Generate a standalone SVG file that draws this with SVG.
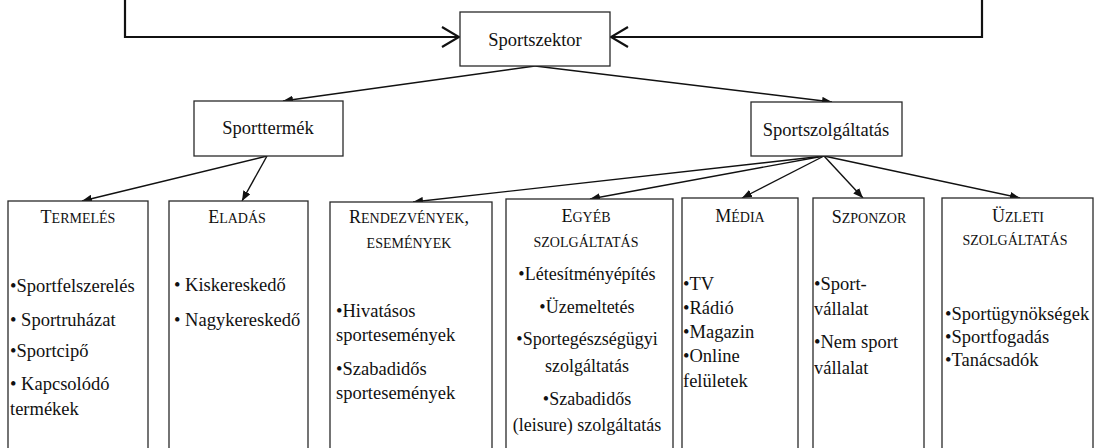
<svg xmlns="http://www.w3.org/2000/svg" width="1097" height="448" viewBox="0 0 1097 448">
<style>
  .box { fill: #fff; stroke: #2a2a2a; stroke-width: 1.3; }
  .t { font-family: 'Liberation Serif', 'DejaVu Serif', serif; font-size: 18.5px; fill: #111; }
  .h { font-family: 'Liberation Serif', 'DejaVu Serif', serif; font-size: 18px; fill: #111; text-anchor: middle; }
  .sc { font-size: 14px; }
  .c { text-anchor: middle; }
  .s18 { font-size: 18px; }
  .conn { fill: none; stroke: #111; stroke-width: 1.4; marker-end: url(#fa); }
  .top { fill: none; stroke: #111; stroke-width: 2.2; marker-end: url(#oa); }
</style>
<defs>
  <marker id="fa" viewBox="0 0 10 8" refX="10" refY="4" markerWidth="10" markerHeight="8" markerUnits="userSpaceOnUse" orient="auto">
    <path d="M0,0 L10,4 L0,8 z" fill="#111"/>
  </marker>
  <marker id="oa" viewBox="0 0 20 22" refX="18" refY="11" markerWidth="20" markerHeight="22" markerUnits="userSpaceOnUse" orient="auto">
    <path d="M1,1 L18,11 L1,21" fill="none" stroke="#111" stroke-width="2.2"/>
  </marker>
</defs>
<rect width="1097" height="448" fill="#fff"/>

<g id="connectors">
  <path class="top" d="M125,0 V37 H459"/>
  <path class="top" d="M982,0 V37 H611"/>
  <path class="conn" d="M535,66 L283,101"/>
  <path class="conn" d="M535,66 L832,102"/>
  <path class="conn" d="M267,156 L82,201"/>
  <path class="conn" d="M267,156 L242,201"/>
  <path class="conn" d="M824,156 L413,202"/>
  <path class="conn" d="M824,156 L590,199"/>
  <path class="conn" d="M824,156 L742,198"/>
  <path class="conn" d="M824,156 L863,198"/>
  <path class="conn" d="M824,156 L1020,198"/>
</g>

<g font-family="Liberation Serif, DejaVu Serif, serif">
<g id="sportszektor">
  <rect class="box" x="460" y="12" width="150" height="54"/>
  <text class="t c" x="535" y="46">Sportszektor</text>
</g>

<g id="sporttermek">
  <rect class="box" x="194" y="101" width="149" height="55"/>
  <text class="t c" x="268" y="134">Sporttermék</text>
</g>

<g id="sportszolgaltatas">
  <rect class="box" x="751" y="102" width="151" height="54"/>
  <text class="t c" x="826" y="136">Sportszolgáltatás</text>
</g>

<g id="termeles">
  <rect class="box" x="8" y="201" width="140" height="260"/>
  <text class="h" x="78" y="223">T<tspan class="sc">ERMELÉS</tspan></text>
  <text class="t" x="10" y="292">•Sportfelszerelés</text>
  <text class="t" x="10" y="326">• Sportruházat</text>
  <text class="t" x="10" y="357">•Sportcipő</text>
  <text class="t" x="10" y="390">• Kapcsolódó</text>
  <text class="t" x="10" y="415">termékek</text>
</g>

<g id="eladas">
  <rect class="box" x="169" y="201" width="139" height="260"/>
  <text class="h" x="237" y="223">E<tspan class="sc">LADÁS</tspan></text>
  <text class="t" x="174" y="291">• Kiskereskedő</text>
  <text class="t" x="174" y="326">• Nagykereskedő</text>
</g>

<g id="rendezvenyek">
  <rect class="box" x="330" y="202" width="162" height="260"/>
  <text class="h" x="409" y="223">R<tspan class="sc">ENDEZVÉNYEK</tspan>,</text>
  <text class="h" x="409" y="248"><tspan class="sc">ESEMÉNYEK</tspan></text>
  <text class="t" x="336" y="317">•Hivatásos</text>
  <text class="t" x="336" y="341">sportesemények</text>
  <text class="t" x="336" y="375">•Szabadidős</text>
  <text class="t" x="336" y="399">sportesemények</text>
</g>

<g id="egyeb">
  <rect class="box" x="506" y="199" width="167" height="262"/>
  <text class="h" x="586" y="222">E<tspan class="sc">GYÉB</tspan></text>
  <text class="h" x="586" y="247"><tspan class="sc">SZOLGÁLTATÁS</tspan></text>
  <text class="t c s18" x="587" y="280">•Létesítményépítés</text>
  <text class="t c s18" x="587" y="313">•Üzemeltetés</text>
  <text class="t c s18" x="587" y="345">•Sportegészségügyi</text>
  <text class="t c s18" x="587" y="372">szolgáltatás</text>
  <text class="t c s18" x="587" y="405">•Szabadidős</text>
  <text class="t c s18" x="587" y="431">(leisure) szolgáltatás</text>
</g>

<g id="media">
  <rect class="box" x="682" y="198" width="116" height="263"/>
  <text class="h" x="740" y="222">M<tspan class="sc">ÉDIA</tspan></text>
  <text class="t" x="683" y="290">•TV</text>
  <text class="t" x="683" y="314">•Rádió</text>
  <text class="t" x="683" y="338">•Magazin</text>
  <text class="t" x="683" y="362">•Online</text>
  <text class="t" x="683" y="387">felületek</text>
</g>

<g id="szponzor">
  <rect class="box" x="813" y="198" width="111" height="263"/>
  <text class="h" x="869" y="223">S<tspan class="sc">ZPONZOR</tspan></text>
  <text class="t" x="814" y="290">•Sport-</text>
  <text class="t" x="814" y="315">vállalat</text>
  <text class="t" x="814" y="348">•Nem sport</text>
  <text class="t" x="814" y="374">vállalat</text>
</g>

<g id="uzleti">
  <rect class="box" x="942" y="198" width="151" height="263"/>
  <text class="h" x="1018" y="222">Ü<tspan class="sc">ZLETI</tspan></text>
  <text class="h" x="1015" y="245"><tspan class="sc">SZOLGÁLTATÁS</tspan></text>
  <text class="t" x="945" y="320">•Sportügynökségek</text>
  <text class="t" x="945" y="343">•Sportfogadás</text>
  <text class="t" x="945" y="366">•Tanácsadók</text>
</g>
</g>
</svg>
